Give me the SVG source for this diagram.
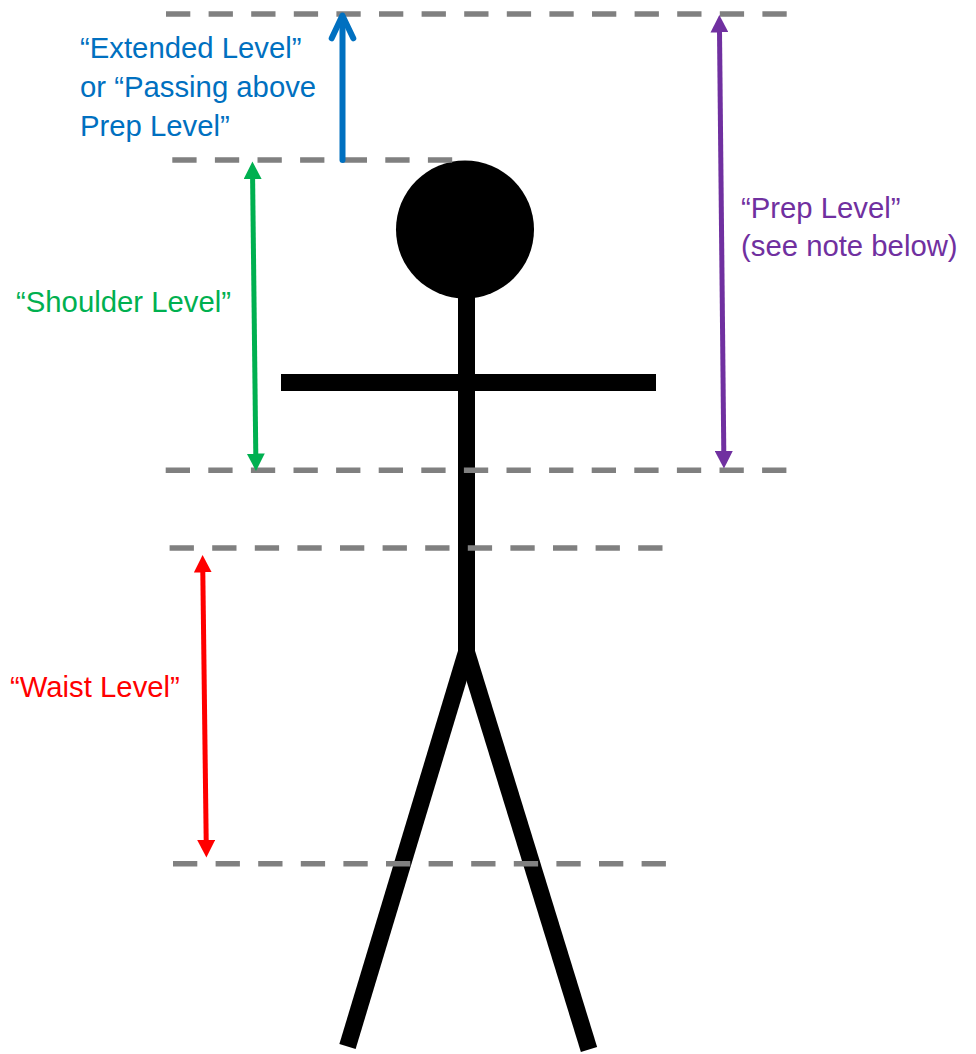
<svg xmlns="http://www.w3.org/2000/svg" width="976" height="1054" viewBox="0 0 976 1054">
<style>
.lvl{stroke:#808080;stroke-width:5.5;stroke-dasharray:24.3 18.3;fill:none}
.fig{stroke:#000;fill:none;stroke-width:17}
.lbl{font-family:"Liberation Sans",Arial,sans-serif;font-size:29.3px}
.shaft{stroke-width:5;fill:none}
</style>
<defs>
<marker id="hG" viewBox="0 0 18 18" markerUnits="userSpaceOnUse" markerWidth="18" markerHeight="18" refX="1" refY="9" orient="auto-start-reverse"><path d="M0,0 L17.5,9 L0,18 z" fill="#00B050"/></marker>
<marker id="hP" viewBox="0 0 18 18" markerUnits="userSpaceOnUse" markerWidth="18" markerHeight="18" refX="1" refY="9" orient="auto-start-reverse"><path d="M0,0 L17.5,9 L0,18 z" fill="#7030A0"/></marker>
<marker id="hR" viewBox="0 0 18 18" markerUnits="userSpaceOnUse" markerWidth="18" markerHeight="18" refX="1" refY="9" orient="auto-start-reverse"><path d="M0,0 L17.5,9 L0,18 z" fill="#FF0000"/></marker>
</defs>
<rect width="976" height="1054" fill="#fff"/>
<g id="stick-figure">
<circle id="head" cx="465" cy="229.5" r="69" fill="#000"/>
<line id="body" class="fig" x1="466.5" y1="290" x2="466.5" y2="655"/>
<rect id="arms" x="281" y="374" width="375" height="17" fill="#000"/>
<line id="left-leg" class="fig" stroke-width="16" x1="466.5" y1="652" x2="347.5" y2="1046.5"/>
<line id="right-leg" class="fig" stroke-width="16" x1="466.5" y1="652" x2="589" y2="1049.5"/>
</g>
<g id="levels">
<line id="level-top" class="lvl" x1="166" y1="14" x2="787" y2="14"/>
<line id="level-shoulder-top" class="lvl" x1="172.3" y1="160" x2="452.5" y2="160"/>
<line id="level-shoulder" class="lvl" x1="165.7" y1="470.3" x2="786.5" y2="470.3"/>
<line id="level-waist-top" class="lvl" x1="169.6" y1="548" x2="663" y2="548"/>
<line id="level-waist" class="lvl" x1="173" y1="863.7" x2="666" y2="863.7"/>
</g>
<g id="connectors">
<g id="arrow-extended" stroke="#0070C0" stroke-width="6" fill="none" stroke-linecap="round" stroke-linejoin="round">
<line x1="342.5" y1="160" x2="342.5" y2="17"/>
<polyline points="331.7,38.3 342.4,15.5 353.3,38.3"/>
</g>
<line id="arrow-shoulder" class="shaft" stroke="#00B050" x1="252.6" y1="178" x2="255.8" y2="454.5" marker-start="url(#hG)" marker-end="url(#hG)"/>
<line id="arrow-prep" class="shaft" stroke="#7030A0" x1="719.5" y1="31.5" x2="723.8" y2="452" marker-start="url(#hP)" marker-end="url(#hP)"/>
<line id="arrow-waist" class="shaft" stroke="#FF0000" x1="202.8" y1="571.5" x2="206.2" y2="841" marker-start="url(#hR)" marker-end="url(#hR)"/>
</g>
<g id="labels" class="lbl">
<text id="label-extended" fill="#0070C0"><tspan x="80" y="58.3">“Extended Level”</tspan><tspan x="80" y="97">or “Passing above</tspan><tspan x="80" y="136">Prep Level”</tspan></text>
<text id="label-prep" fill="#7030A0"><tspan x="741" y="217.5">“Prep Level”</tspan><tspan x="741" y="256">(see note below)</tspan></text>
<text id="label-shoulder" fill="#00B050" x="16" y="311.5">“Shoulder Level”</text>
<text id="label-waist" fill="#FF0000" x="10" y="697">“Waist Level”</text>
</g>
</svg>
